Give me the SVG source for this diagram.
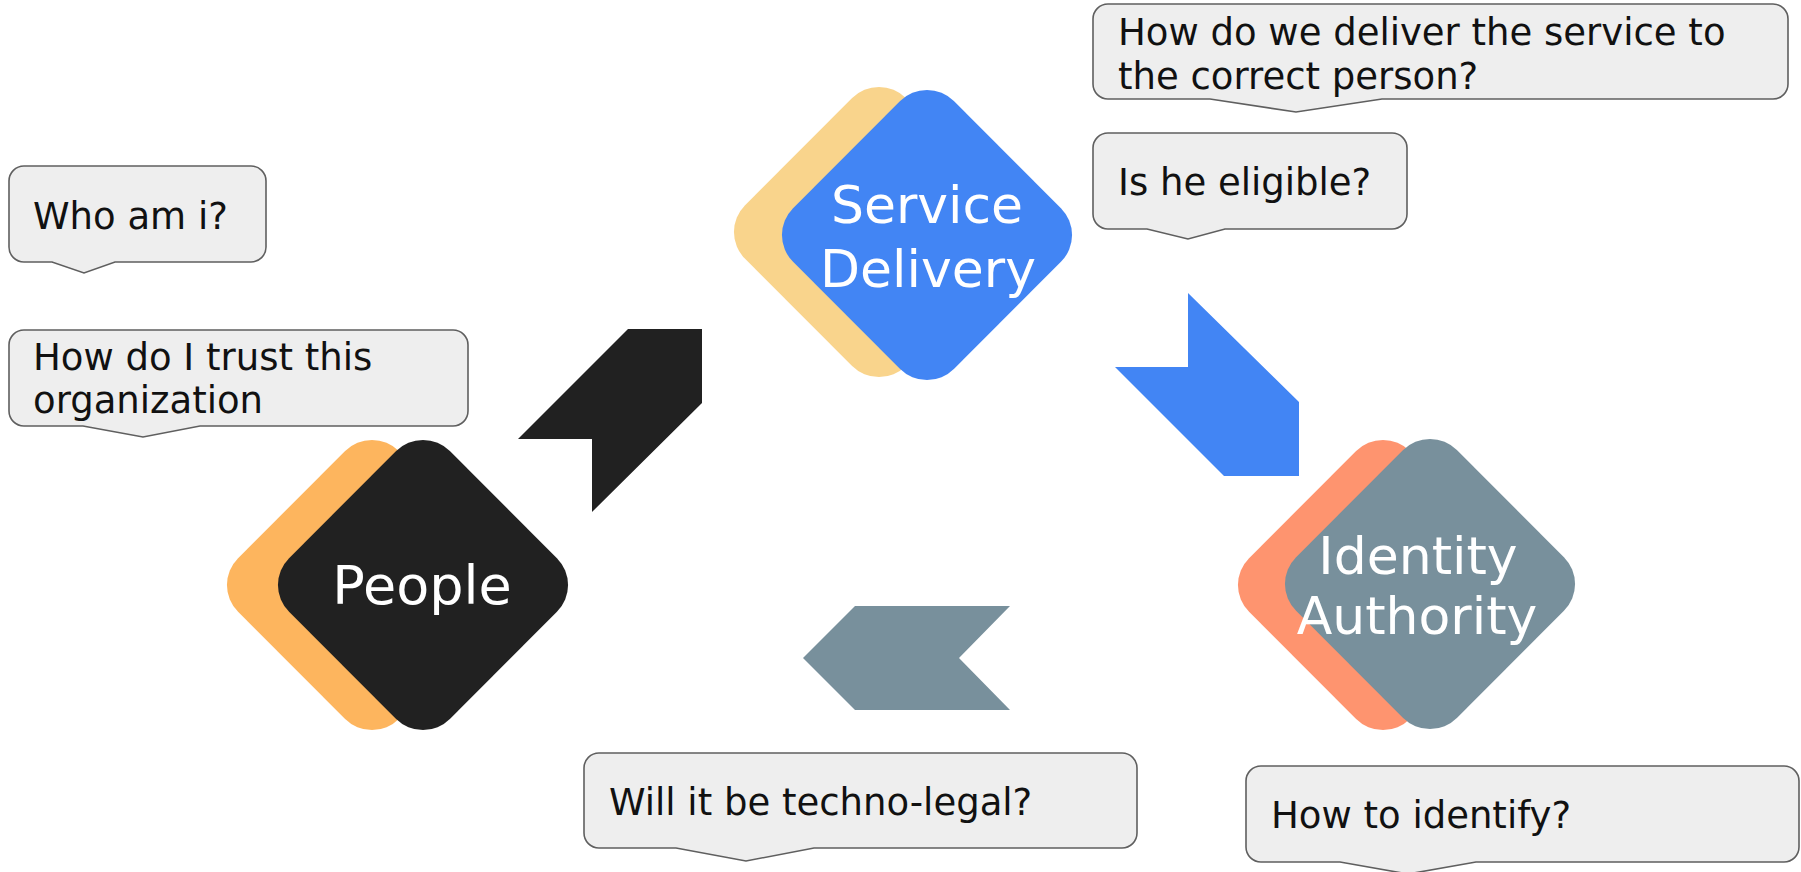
<svg xmlns="http://www.w3.org/2000/svg" width="1801" height="872" viewBox="0 0 1801 872">
  <style>
    .bubble { fill: #eeeeee; stroke: #5f5f5f; stroke-width: 1.6; }
    .btext { font-family: "DejaVu Sans", "Liberation Sans", sans-serif; font-size: 37px; fill: #111111; }
    .ntext { font-family: "DejaVu Sans", "Liberation Sans", sans-serif; font-size: 52px; fill: #ffffff; text-anchor: middle; }
  </style>
  <defs>
    <rect id="dia" x="-113.7" y="-113.7" width="227.4" height="227.4" rx="38" ry="38" transform="rotate(45)"/>
  </defs>
  <rect width="1801" height="872" fill="#ffffff"/>

  <g id="connectors">
    <polygon id="arrow-people-service" points="518,439 628,329 702,329 702,403 592,512 592,439" fill="#212121"/>
    <polygon id="arrow-service-identity" points="1188,293 1299,402 1299,476 1224,476 1115,367 1188,367" fill="#4285f4"/>
    <polygon id="arrow-identity-people" points="855,606 1010,606 959,658 1010,710 855,710 803,658" fill="#78909c"/>
  </g>

  <g id="node-service">
    <use href="#dia" transform="translate(879,232)" fill="#f9d48c"/>
    <use href="#dia" transform="translate(927,235)" fill="#4285f4"/>
    <text class="ntext" x="927" y="223">Service</text>
    <text class="ntext" x="928" y="287">Delivery</text>
  </g>

  <g id="node-people">
    <use href="#dia" transform="translate(372,585)" fill="#fdb55e"/>
    <use href="#dia" transform="translate(423,585)" fill="#212121"/>
    <text class="ntext" x="422" y="604" style="font-size:54px">People</text>
  </g>

  <g id="node-identity">
    <use href="#dia" transform="translate(1383,585)" fill="#fe946f"/>
    <use href="#dia" transform="translate(1430,584)" fill="#78909c"/>
    <text class="ntext" x="1418" y="574">Identity</text>
    <text class="ntext" x="1417" y="634">Authority</text>
  </g>

  <g id="callout-who">
    <path class="bubble" d="M24,166 H251 A15,15 0 0 1 266,181 V247 A15,15 0 0 1 251,262 H115 L84,273 L52,262 H24 A15,15 0 0 1 9,247 V181 A15,15 0 0 1 24,166 Z"/>
    <text class="btext" x="33" y="229">Who am i?</text>
  </g>

  <g id="callout-trust">
    <path class="bubble" d="M24,330 H453 A15,15 0 0 1 468,345 V411 A15,15 0 0 1 453,426 H200 L143,437 L83,426 H24 A15,15 0 0 1 9,411 V345 A15,15 0 0 1 24,330 Z"/>
    <text class="btext" x="33" y="370">How do I trust this</text>
    <text class="btext" x="33" y="413">organization</text>
  </g>

  <g id="callout-deliver">
    <path class="bubble" d="M1108,4 H1773 A15,15 0 0 1 1788,19 V84 A15,15 0 0 1 1773,99 H1382 L1296,112 L1210,99 H1108 A15,15 0 0 1 1093,84 V19 A15,15 0 0 1 1108,4 Z"/>
    <text class="btext" x="1118" y="45">How do we deliver the service to</text>
    <text class="btext" x="1118" y="89">the correct person?</text>
  </g>

  <g id="callout-eligible">
    <path class="bubble" d="M1108,133 H1392 A15,15 0 0 1 1407,148 V214 A15,15 0 0 1 1392,229 H1225 L1188,239 L1147,229 H1108 A15,15 0 0 1 1093,214 V148 A15,15 0 0 1 1108,133 Z"/>
    <text class="btext" x="1118" y="195">Is he eligible?</text>
  </g>

  <g id="callout-legal">
    <path class="bubble" d="M599,753 H1122 A15,15 0 0 1 1137,768 V833 A15,15 0 0 1 1122,848 H814 L746,861 L676,848 H599 A15,15 0 0 1 584,833 V768 A15,15 0 0 1 599,753 Z"/>
    <text class="btext" x="609" y="815">Will it be techno-legal?</text>
  </g>

  <g id="callout-identify">
    <path class="bubble" d="M1261,766 H1784 A15,15 0 0 1 1799,781 V847 A15,15 0 0 1 1784,862 H1476 L1408,874 L1340,862 H1261 A15,15 0 0 1 1246,847 V781 A15,15 0 0 1 1261,766 Z"/>
    <text class="btext" x="1271" y="828">How to identify?</text>
  </g>
</svg>
